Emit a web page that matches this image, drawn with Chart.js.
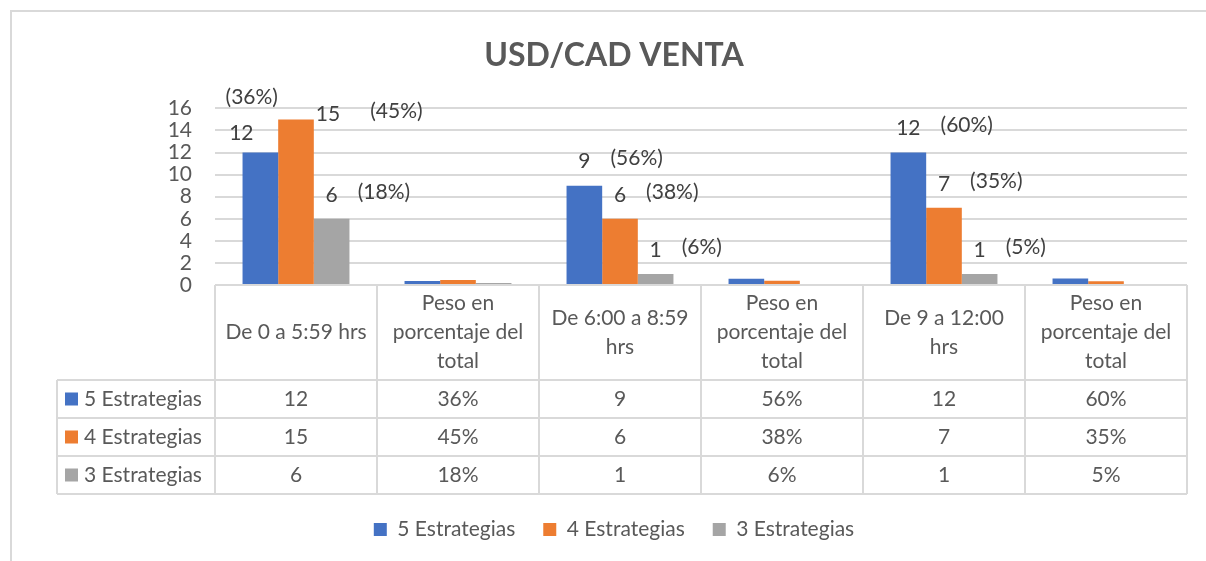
<!DOCTYPE html>
<html lang="es">
<head>
<meta charset="utf-8">
<title>USD/CAD VENTA</title>
<script src="https://cdn.jsdelivr.net/npm/chart.js@4.4.1/dist/chart.umd.min.js"></script>
<style>
  html, body { margin: 0; padding: 0; background: #fff; overflow: hidden; }
  .marco { position: absolute; left: 10px; top: 10px; width: 1300px; height: 700px;
           border-top: 2px solid #d9d9d9; border-left: 2px solid #d9d9d9; }
  .contenedor { position: absolute; left: 0; top: 0; width: 1206px; height: 561px; }
</style>
</head>
<body>
<div class="marco"></div>
<div class="contenedor"><canvas id="ventaChart"></canvas></div>
<script>
// ===== DATOS =====
const categorias = [
  ['De 0 a 5:59 hrs'],
  ['Peso en', 'porcentaje del', 'total'],
  ['De 6:00 a 8:59', 'hrs'],
  ['Peso en', 'porcentaje del', 'total'],
  ['De 9 a 12:00', 'hrs'],
  ['Peso en', 'porcentaje del', 'total']
];
const esPorcentaje = [false, true, false, true, false, true];
const nombresSeries = ['5 Estrategias', '4 Estrategias', '3 Estrategias'];
const cinco = [12, 0.36, 9, 0.56, 12, 0.60];
const cuatro = [15, 0.45, 6, 0.38, 7, 0.35];
const tres = [6, 0.18, 1, 0.06, 1, 0.05];
const colores = ['#4472C4', '#ED7D31', '#A5A5A5'];
const ejeY = { min: 0, max: 16, paso: 2 };

const FUENTE = 'Lato';
const TAM = 21;
const GRIS_TEXTO = '#595959';
const GRIS_LINEA = '#d9d9d9';

// etiquetas movidas a mano en el original (serie, categoria)
const ajustesEtiquetas = {
  '0-0': { valor: [-19, 5], pct: [-48, -33] },
  '1-0': { valor: [32, 19], pct: [10, 0] }
};

const fmtValor = (v, pct) => pct ? Math.round(v * 100) + '%' : String(v);

// ===== PLUGIN: etiquetas de datos =====
const etiquetasDatos = {
  id: 'etiquetasDatos',
  afterDatasetsDraw(chart) {
    const ctx = chart.ctx;
    ctx.save();
    ctx.font = `${TAM}px ${FUENTE}`;
    ctx.fillStyle = '#404040';
    ctx.textBaseline = 'middle';
    chart.data.datasets.forEach((ds, s) => {
      const meta = chart.getDatasetMeta(s);
      ds.data.forEach((v, i) => {
        if (esPorcentaje[i]) return;
        const bar = meta.data[i];
        const aj = ajustesEtiquetas[`${s}-${i}`] || { valor: [0, 0], pct: [0, 0] };
        const texto = fmtValor(v, false);
        const w = ctx.measureText(texto).width;
        const vx = bar.x + aj.valor[0];
        const vy = bar.y - 24 + aj.valor[1];
        ctx.textAlign = 'center';
        ctx.fillText(texto, vx, vy);
        const p = '(' + fmtValor(ds.data[i + 1], true) + ')';
        ctx.textAlign = 'left';
        ctx.fillText(p, vx + w / 2 + 20 + aj.pct[0], vy - 3 + aj.pct[1]);
      });
    });
    ctx.restore();
  }
};

// ===== PLUGIN: tabla de datos =====
const tablaDatos = {
  id: 'tablaDatos',
  afterDraw(chart) {
    const { ctx, chartArea } = chart;
    const x = chart.scales.x;
    const n = categorias.length;
    const ancho = chartArea.width / n;
    const izq = chartArea.left;
    const der = chartArea.right;
    const top = chartArea.bottom;
    const altoCab = 95;
    const altoFila = 38;
    const colLeyenda = 57;
    const filas = chart.data.datasets.length;
    const fondo = top + altoCab + altoFila * filas;

    ctx.save();
    ctx.strokeStyle = GRIS_LINEA;
    ctx.lineWidth = 2;
    ctx.beginPath();
    // lineas horizontales
    ctx.moveTo(izq, top); ctx.lineTo(der, top);
    for (let r = 0; r <= filas; r++) {
      const y = top + altoCab + r * altoFila;
      ctx.moveTo(colLeyenda, y); ctx.lineTo(der, y);
    }
    // lineas verticales
    ctx.moveTo(colLeyenda, top + altoCab); ctx.lineTo(colLeyenda, fondo);
    for (let c = 0; c <= n; c++) {
      const xx = izq + c * ancho;
      ctx.moveTo(xx, top); ctx.lineTo(xx, fondo);
    }
    ctx.stroke();

    ctx.font = `${TAM}px ${FUENTE}`;
    ctx.fillStyle = GRIS_TEXTO;
    ctx.textAlign = 'center';
    ctx.textBaseline = 'middle';
    const altoLinea = 29;
    categorias.forEach((lineas, i) => {
      const cx = x.getPixelForValue(i);
      const cy = top + altoCab / 2;
      const y0 = cy - (lineas.length - 1) * altoLinea / 2;
      lineas.forEach((l, k) => ctx.fillText(l, cx, y0 + k * altoLinea));
    });

    chart.data.datasets.forEach((ds, s) => {
      const cy = top + altoCab + s * altoFila + altoFila / 2;
      ctx.fillStyle = ds.backgroundColor;
      ctx.fillRect(colLeyenda + 8, cy - 6.5, 13, 13);
      ctx.fillStyle = GRIS_TEXTO;
      ctx.textAlign = 'left';
      ctx.fillText(ds.label, colLeyenda + 27, cy);
      ctx.textAlign = 'center';
      ds.data.forEach((v, i) => {
        ctx.fillText(fmtValor(v, esPorcentaje[i]), x.getPixelForValue(i), cy);
      });
    });
    ctx.restore();
  }
};

// ===== GRAFICO =====
new Chart(document.getElementById('ventaChart'), {
  type: 'bar',
  data: {
    labels: categorias,
    datasets: [cinco, cuatro, tres].map((serie, k) => ({
      label: nombresSeries[k],
      data: serie,
      backgroundColor: colores[k],
      categoryPercentage: 0.66,
      barPercentage: 1.0
    }))
  },
  options: {
    responsive: true,
    maintainAspectRatio: false,
    animation: false,
    layout: { padding: { left: 41, right: 19, top: 0, bottom: 11 } },
    plugins: {
      title: {
        display: true,
        text: 'USD/CAD VENTA',
        color: GRIS_TEXTO,
        font: { family: FUENTE, size: 32, weight: 'bold' },
        padding: { top: 36, bottom: 34 }
      },
      legend: {
        position: 'bottom',
        labels: {
          color: GRIS_TEXTO,
          font: { family: FUENTE, size: TAM },
          boxWidth: 13,
          boxHeight: 13,
          padding: 28
        }
      },
      tooltip: { enabled: false }
    },
    scales: {
      x: {
        ticks: { display: false },
        grid: { display: false },
        border: { display: false },
        afterFit: (eje) => { eje.height = 206; }
      },
      y: {
        min: ejeY.min,
        max: ejeY.max,
        ticks: {
          stepSize: ejeY.paso,
          autoSkip: false,
          color: GRIS_TEXTO,
          font: { family: FUENTE, size: TAM },
          padding: 23
        },
        grid: { color: GRIS_LINEA, lineWidth: 2, drawTicks: false },
        border: { display: false },
        afterFit: (eje) => { eje.width = 174; }
      }
    }
  },
  plugins: [etiquetasDatos, tablaDatos]
});
</script>
</body>
</html>
